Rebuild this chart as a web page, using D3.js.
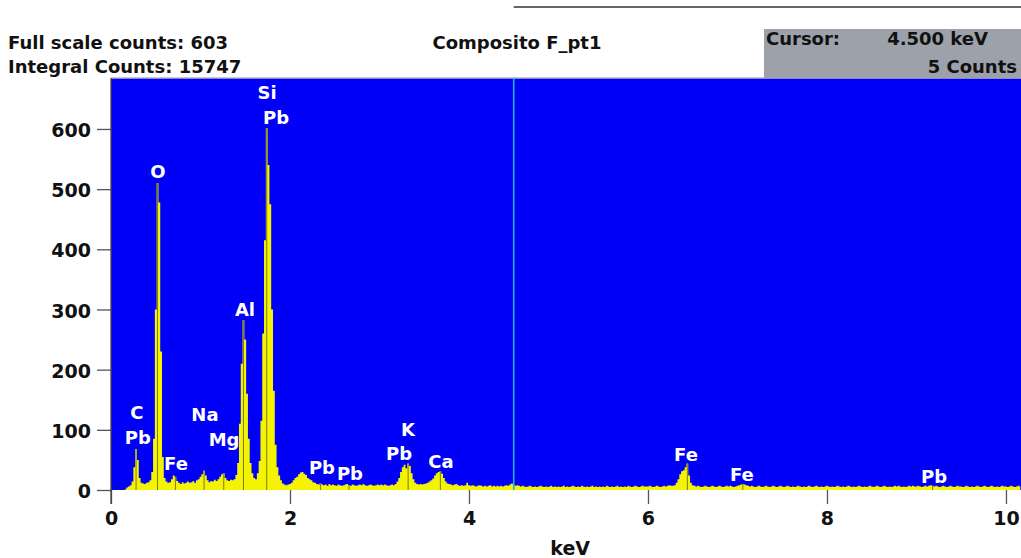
<!DOCTYPE html>
<html>
<head>
<meta charset="utf-8">
<script src="https://cdn.jsdelivr.net/npm/d3@7/dist/d3.min.js"></script>
<style>
  body { margin: 0; background: #fff; }
  svg { display: block; font-family: "DejaVu Sans", Verdana, sans-serif; font-weight: bold; }
</style>
</head>
<body>
<svg id="chart" width="1021" height="558"></svg>
<script>
// spectrum, one value per 0.02 keV channel starting at 0 keV
const binWidth = 0.02;
const counts = [
  0, 0, 0, 0, 0, 0, 0, 0, 1, 4, 6, 8, 14, 38, 68, 50, 20, 12, 11, 10, 12, 13, 16, 30, 85,          // 0.00
  300, 510, 478, 230, 55, 20, 14, 12, 13, 18, 24, 22, 15, 12, 10, 13, 11, 12, 14, 12, 13, 15, 12, 16, 18, // 0.50
  22, 26, 32, 24, 16, 13, 15, 14, 17, 15, 18, 22, 26, 28, 20, 16, 15, 17, 16, 18, 25, 45, 110, 210, 282,  // 1.00
  250, 160, 85, 45, 28, 20, 18, 28, 48, 115, 260, 415, 601, 540, 475, 300, 165, 75, 38, 24, 16, 11, 9, 8, 9, // 1.50
  10, 12, 16, 20, 22, 26, 29, 30, 27, 25, 20, 18, 16, 13, 12, 10, 9, 11, 9, 8, 9, 7, 10, 8, 9,           // 2.00
  8, 7, 9, 8, 7, 8, 9, 10, 8, 7, 9, 8, 7, 8, 9, 8, 10, 8, 7, 8, 9, 8, 7, 8, 9,                           // 2.50
  8, 9, 8, 9, 8, 7, 8, 9, 8, 10, 14, 20, 30, 38, 42, 36, 44, 40, 28, 18, 12, 10, 9, 10, 9,               // 3.00
  10, 11, 12, 14, 16, 19, 24, 28, 30, 31, 27, 20, 14, 11, 10, 9, 8, 9, 10, 8, 7, 8, 7, 8, 12,            // 3.50
  8, 7, 8, 7, 6, 7, 8, 7, 6, 7, 6, 7, 8, 6, 7, 6, 7, 6, 7, 6, 7, 8, 7, 9, 11,                            // 4.00
  9, 7, 8, 7, 6, 7, 6, 5, 6, 7, 6, 5, 6, 5, 6, 7, 6, 5, 6, 5, 6, 7, 5, 6, 5,                             // 4.50
  6, 5, 6, 7, 5, 6, 5, 6, 7, 6, 5, 6, 5, 7, 6, 5, 6, 5, 6, 7, 5, 6, 5, 6, 5,                             // 5.00
  6, 5, 7, 6, 5, 6, 5, 6, 7, 5, 6, 5, 6, 5, 7, 6, 5, 6, 7, 6, 5, 6, 7, 6, 6,                             // 5.50
  6, 7, 6, 5, 6, 7, 6, 5, 6, 7, 6, 7, 8, 7, 7, 8, 12, 18, 26, 31, 33, 38, 44, 24, 12,                    // 6.00
  8, 7, 6, 7, 6, 5, 6, 7, 6, 5, 6, 7, 6, 5, 6, 7, 6, 5, 6, 7, 6, 7, 6, 5, 6,                             // 6.50
  7, 8, 9, 10, 9, 8, 7, 6, 7, 6, 5, 6, 7, 6, 5, 6, 7, 6, 5, 6, 7, 6, 5, 6, 7,                            // 7.00
  6, 5, 6, 7, 6, 5, 6, 5, 6, 7, 6, 5, 6, 5, 6, 7, 6, 5, 6, 7, 6, 5, 6, 5, 6,                             // 7.50
  7, 6, 5, 6, 5, 6, 7, 6, 5, 6, 5, 6, 7, 6, 5, 6, 5, 6, 7, 6, 5, 6, 5, 6, 7,                             // 8.00
  6, 5, 6, 7, 6, 5, 6, 7, 6, 5, 6, 5, 6, 7, 6, 7, 6, 5, 6, 5, 6, 7, 6, 7, 6,                             // 8.50
  6, 7, 6, 5, 6, 7, 6, 7, 8, 7, 6, 7, 6, 5, 6, 7, 6, 5, 6, 7, 6, 5, 6, 7, 6,                             // 9.00
  6, 5, 6, 7, 6, 5, 6, 5, 6, 7, 6, 5, 6, 7, 6, 5, 6, 7, 6, 5, 6, 5, 6, 7, 6,                             // 9.50
  6, 5, 6, 7, 6, 5, 6, 7, 6                                                                              // 10.00
];

// element marker lines (keV)
const markerKev = [0.28, 0.52, 0.72, 1.04, 1.26, 1.48, 1.74, 2.34, 2.66, 3.32, 3.68, 6.44, 7.06, 9.18];

// peak labels: text, keV, counts of the text baseline
const labelNames = ["O", "Si", "Pb", "Al", "C", "Pb", "Na", "Mg", "Fe", "Pb", "Pb", "K", "Pb", "Ca", "Fe", "Fe", "Pb"];
const labelKev   = [0.525, 1.743, 1.844, 1.497, 0.29, 0.30, 1.05, 1.263, 0.726, 2.357, 2.67, 3.318, 3.218, 3.687, 6.425, 7.05, 9.196];
const labelCts   = [518, 650, 609, 289, 118, 76, 115, 73, 33, 27, 17, 90, 50, 37, 48, 15, 12];

const xTicks = [0, 2, 4, 6, 8, 10];
const yTicks = [0, 100, 200, 300, 400, 500, 600];
const xMax = 10.168, yMax = 684.7;

const cursorKev = 4.5, cursorCounts = 5;
const fullScale = 603, integralCounts = 15747;
const title = "Composito F_pt1";

const svg = d3.select("#chart");
const plotLeft = 111, plotTop = 78, plotRight = 1021, plotBottom = 490;

const x = d3.scaleLinear().domain([0, xMax]).range([plotLeft, plotRight]);
const y = d3.scaleLinear().domain([0, yMax]).range([plotBottom, plotTop]);

// plot background
svg.append("rect")
   .attr("x", plotLeft).attr("y", plotTop)
   .attr("width", plotRight - plotLeft).attr("height", plotBottom - plotTop)
   .attr("fill", "#0000f8");
svg.append("line")
   .attr("x1", plotLeft).attr("x2", plotRight).attr("y1", plotTop).attr("y2", plotTop)
   .attr("stroke", "#b8b8b8").attr("stroke-width", 1.5);

svg.append("clipPath").attr("id", "plotClip")
   .append("rect")
   .attr("x", plotLeft).attr("y", plotTop)
   .attr("width", plotRight - plotLeft).attr("height", plotBottom - plotTop);

const plot = svg.append("g").attr("clip-path", "url(#plotClip)");

const area = d3.area()
    .x((d, i) => x(i * binWidth))
    .y0(y(0))
    .y1(d => y(d))
    .curve(d3.curveStep);

plot.append("path")
    .datum(counts)
    .attr("d", area)
    .attr("fill", "#f4f400");

markerKev.forEach(e => {
    const idx = Math.round(e / binWidth);
    plot.append("line")
        .attr("x1", x(e)).attr("x2", x(e))
        .attr("y1", y(0)).attr("y2", y(counts[idx]))
        .attr("stroke", "#7d7d12")
        .attr("stroke-width", 1);
});

// cursor
plot.append("line")
    .attr("x1", x(cursorKev)).attr("x2", x(cursorKev))
    .attr("y1", plotTop).attr("y2", plotBottom)
    .attr("stroke", "#1cb0d4")
    .attr("stroke-width", 1.6);

// peak labels
labelNames.forEach((name, i) => {
    plot.append("text")
        .attr("x", x(labelKev[i]))
        .attr("y", y(labelCts[i]))
        .attr("text-anchor", "middle")
        .attr("fill", "#fff")
        .attr("font-size", 18)
        .text(name);
});

// axes
const xAxis = svg.append("g")
    .attr("transform", `translate(0,${plotBottom})`)
    .call(d3.axisBottom(x).tickValues(xTicks).tickSize(14).tickPadding(8).tickFormat(d3.format("d")));
const yAxis = svg.append("g")
    .attr("transform", `translate(${plotLeft},0)`)
    .call(d3.axisLeft(y).tickValues(yTicks).tickSize(14).tickPadding(6));

[xAxis, yAxis].forEach(g => {
    g.select(".domain").remove();
    g.selectAll(".tick line").attr("stroke", "#555").attr("stroke-width", 1.3);
    g.selectAll(".tick text")
     .attr("fill", "#111")
     .attr("font-size", 19)
     .attr("font-family", "DejaVu Sans, Verdana, sans-serif")
     .attr("font-weight", "bold");
});
yAxis.selectAll(".tick text").attr("dy", "0.4em");

svg.append("line")
   .attr("x1", plotLeft).attr("x2", plotLeft).attr("y1", plotTop).attr("y2", plotBottom + 14)
   .attr("stroke", "#444").attr("stroke-width", 1.3);

svg.append("text")
   .attr("x", x(5.13)).attr("y", 555)
   .attr("text-anchor", "middle")
   .attr("font-size", 19).attr("fill", "#111")
   .text("keV");

// header
svg.append("line")
   .attr("x1", x(cursorKev)).attr("x2", plotRight).attr("y1", 7).attr("y2", 7)
   .attr("stroke", "#333").attr("stroke-width", 1.5);

svg.append("text").attr("x", 8).attr("y", 49)
   .attr("font-size", 18).attr("fill", "#111")
   .text("Full scale counts: " + fullScale);
svg.append("text").attr("x", 8).attr("y", 73)
   .attr("font-size", 18).attr("fill", "#111")
   .text("Integral Counts: " + integralCounts);
svg.append("text").attr("x", 517).attr("y", 49)
   .attr("text-anchor", "middle")
   .attr("font-size", 18).attr("fill", "#111")
   .text(title);

svg.append("rect")
   .attr("x", 764).attr("y", 29).attr("width", plotRight - 764).attr("height", plotTop - 29)
   .attr("fill", "#9da2aa");
svg.append("text").attr("x", 766).attr("y", 45)
   .attr("font-size", 18).attr("fill", "#111")
   .text("Cursor:");
svg.append("text").attr("x", 988).attr("y", 45)
   .attr("text-anchor", "end")
   .attr("font-size", 18).attr("fill", "#111")
   .text(cursorKev.toFixed(3) + " keV");
svg.append("text").attr("x", 1017).attr("y", 73)
   .attr("text-anchor", "end")
   .attr("font-size", 18).attr("fill", "#111")
   .text(cursorCounts + " Counts");
</script>
</body>
</html>
